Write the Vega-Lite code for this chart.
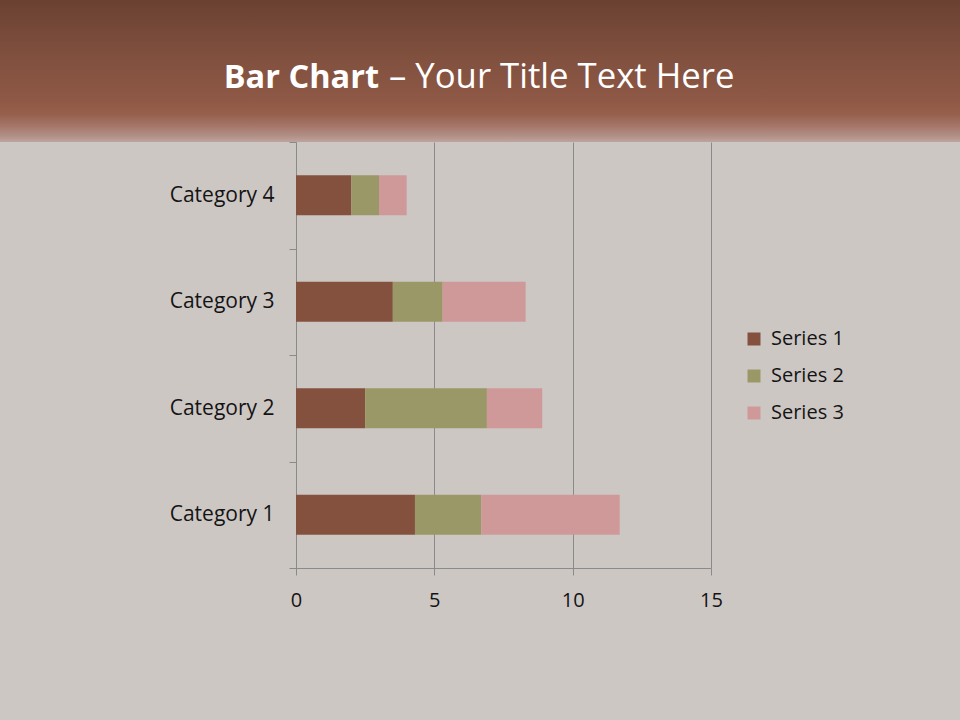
{
  "$schema": "https://vega.github.io/schema/vega-lite/v6.json",
  "background": "#cdc7c4",
  "padding": {"left": 0, "top": 0, "right": 0, "bottom": 110},
  "spacing": -11,
  "config": {
    "view": {"stroke": null},
    "font": "Open Sans"
  },
  "vconcat": [
    {
      "width": 960,
      "height": 142,
      "data": {"values": [{"bold": "Bar Chart", "rest": "– Your Title Text Here"}]},
      "layer": [
        {
          "mark": {
            "type": "rect",
            "color": {
              "gradient": "linear",
              "x1": 0, "y1": 0, "x2": 0, "y2": 1,
              "stops": [
                {"offset": 0, "color": "#6a4131"},
                {"offset": 0.37, "color": "#7f4f3e"},
                {"offset": 0.72, "color": "#8f5946"},
                {"offset": 0.8, "color": "#955f4c"},
                {"offset": 0.88, "color": "#a47466"},
                {"offset": 0.95, "color": "#b08c82"},
                {"offset": 1, "color": "#bca59e"}
              ]
            }
          },
          "encoding": {}
        },
        {
          "mark": {"type": "text", "align": "right", "baseline": "alphabetic", "dx": -101, "dy": 17, "fontSize": 32.5, "fontWeight": "bold", "color": "#ffffff", "font": "Open Sans"},
          "encoding": {"text": {"field": "bold"}}
        },
        {
          "mark": {"type": "text", "align": "left", "baseline": "alphabetic", "dx": -91, "dy": 17, "fontSize": 34.7, "fontWeight": "normal", "color": "#ffffff", "font": "Open Sans"},
          "encoding": {"text": {"field": "rest"}}
        }
      ]
    },
    {
      "spacing": 0,
      "hconcat": [
        {
          "width": 169,
          "height": 10,
          "data": {"values": [{}]},
          "mark": {"type": "rect", "opacity": 0},
          "encoding": {}
        },
        {
          "width": 415,
          "height": 426,
          "data": {
            "values": [
              {"category": "Category 1", "series": "Series 1", "value": 4.3},
              {"category": "Category 1", "series": "Series 2", "value": 2.4},
              {"category": "Category 1", "series": "Series 3", "value": 5},
              {"category": "Category 2", "series": "Series 1", "value": 2.5},
              {"category": "Category 2", "series": "Series 2", "value": 4.4},
              {"category": "Category 2", "series": "Series 3", "value": 2},
              {"category": "Category 3", "series": "Series 1", "value": 3.5},
              {"category": "Category 3", "series": "Series 2", "value": 1.8},
              {"category": "Category 3", "series": "Series 3", "value": 3},
              {"category": "Category 4", "series": "Series 1", "value": 2},
              {"category": "Category 4", "series": "Series 2", "value": 1},
              {"category": "Category 4", "series": "Series 3", "value": 1}
            ]
          },
          "mark": {"type": "bar", "height": {"band": 0.376}},
          "encoding": {
            "y": {
              "field": "category",
              "type": "nominal",
              "sort": "descending",
              "scale": {"paddingInner": 0, "paddingOuter": 0},
              "axis": {
                "title": null,
                "tickBand": "extent",
                "tickSize": 7,
                "tickColor": "#8a8a8a",
                "domainColor": "#8a8a8a",
                "labelFontSize": 21,
                "labelColor": "#141414",
                "labelPadding": 15,
                "labelFont": "Open Sans",
                "grid": false
              }
            },
            "x": {
              "field": "value",
              "type": "quantitative",
              "stack": "zero",
              "scale": {"domain": [0, 15], "nice": false},
              "axis": {
                "title": null,
                "values": [0, 5, 10, 15],
                "labelFlush": false,
                "tickSize": 7,
                "tickColor": "#8a8a8a",
                "domainColor": "#8a8a8a",
                "gridColor": "#8a8a8a",
                "gridOpacity": 1,
                "labelFontSize": 20,
                "labelColor": "#141414",
                "labelPadding": 15,
                "labelFont": "Open Sans"
              }
            },
            "color": {
              "field": "series",
              "type": "nominal",
              "scale": {
                "domain": ["Series 1", "Series 2", "Series 3"],
                "range": ["#85513f", "#9a9866", "#cf999a"]
              },
              "legend": {
                "title": null,
                "orient": "none",
                "legendX": 744,
                "legendY": 329,
                "padding": 0,
                "symbolType": "square",
                "symbolSize": 169,
                "symbolStrokeWidth": 0,
                "symbolOpacity": 1,
                "labelFontSize": 20,
                "labelColor": "#141414",
                "labelFont": "Open Sans",
                "labelOffset": 7,
                "rowPadding": 17
              }
            }
          }
        }
      ]
    }
  ]
}
